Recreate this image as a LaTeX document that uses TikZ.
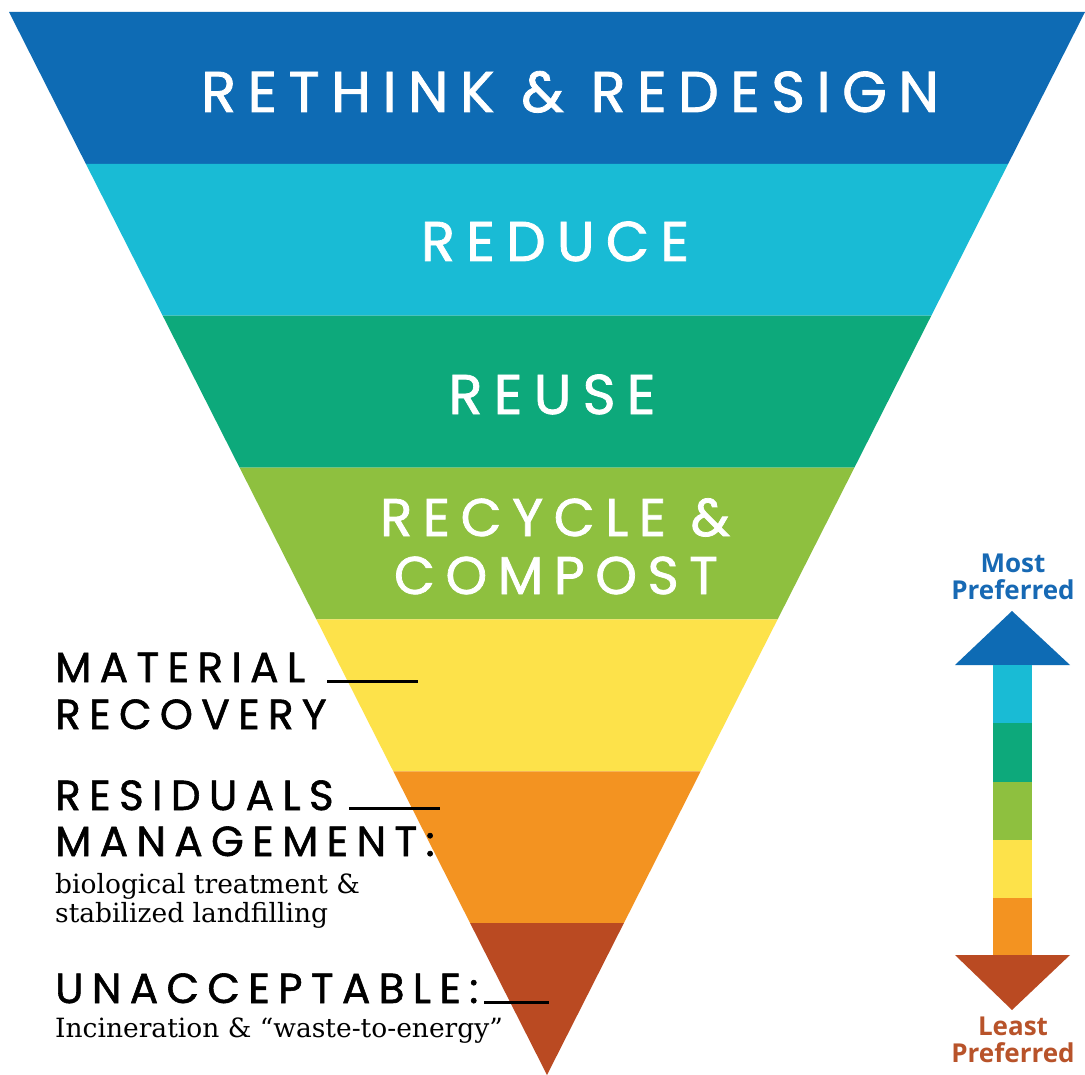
\documentclass[tikz,border=0pt]{standalone}
\usepackage{fontspec}
\setmainfont{Poppins}
\newfontfamily\geo[LetterSpace=20,FakeBold=1.4]{Poppins}
\newfontfamily\slab{DejaVu Serif}
\newfontfamily\osans{Open Sans}
\usetikzlibrary{calc}
\definecolor{cBlue}{HTML}{0E6BB4}
\definecolor{cCyan}{HTML}{19BBD5}
\definecolor{cTeal}{HTML}{0DA97B}
\definecolor{cLime}{HTML}{8EC03F}
\definecolor{cYellow}{HTML}{FDE24A}
\definecolor{cOrange}{HTML}{F39321}
\definecolor{cRust}{HTML}{BA4A22}
\definecolor{cMost}{HTML}{1769B4}
\definecolor{cLeast}{HTML}{B8532A}
\tikzset{
  bandtext/.style={text=white,font=\geo\fontsize{56}{60}\selectfont,anchor=base,inner sep=0pt},
  bandsmall/.style={bandtext,font=\geo\fontsize{53}{57}\selectfont},
  sidelabel/.style={text=black,font=\geo\fontsize{42}{46}\selectfont,anchor=base west,inner sep=0pt},
  sidenote/.style={text=black,font=\slab\fontsize{26.5}{29}\selectfont,anchor=base west,inner sep=0pt},
  leader/.style={draw=black,line width=3pt},
  preftext/.style={font=\osans\bfseries\fontsize{26}{27}\selectfont,anchor=base,inner sep=0pt},
}
\begin{document}
\begin{tikzpicture}[x=1pt,y=-1pt]
\useasboundingbox (0,0) rectangle (1085,1075);
\fill[white] (0,0) rectangle (1085,1075);
\coordinate (TL) at (9,12);
\coordinate (TR) at (1085,12);
\coordinate (AP) at (547,1075);
\foreach \k/\c in {0/cBlue,1/cCyan,2/cTeal,3/cLime,4/cYellow,5/cOrange}{
  \pgfmathsetmacro{\a}{\k/7}
  \pgfmathsetmacro{\b}{(\k+1)/7}
  \fill[\c] ($(TL)!\a!(AP)$) -- ($(TR)!\a!(AP)$) -- ($(TR)!\b!(AP)$) -- ($(TL)!\b!(AP)$) -- cycle;
}
\fill[cRust] ($(TL)!6/7!(AP)$) -- ($(TR)!6/7!(AP)$) -- (AP) -- cycle;

% band texts
\node[bandtext,font=\geo\fontsize{57.5}{60}\selectfont] (t1) at (570,112) {RETHINK \& REDESIGN};
\node[bandtext] (t2) at (555,261) {REDUCE};
\node[bandtext] (t3) at (552,414) {REUSE};
\node[bandsmall] (t4) at (555,536) {RECYCLE \&};
\node[bandsmall] (t5) at (556,594) {COMPOST};

% side labels
\node[sidelabel] (mat) at (55,682) {MATERIAL};
\node[sidelabel] (rec) at (55,729) {RECOVERY};
\coordinate (matA) at (327,681);
\coordinate (matB) at (418,681);
\draw[leader] (matA) -- (matB);

\node[sidelabel] (res) at (55,810) {RESIDUALS};
\node[sidelabel] (man) at (55,856) {MANAGEMENT:};
\coordinate (resA) at (349,808);
\coordinate (resB) at (440,808);
\draw[leader] (resA) -- (resB);
\node[sidenote] (bio) at (55,893) {biological treatment \&};
\node[sidenote] (sta) at (55,922) {stabilized landfilling};

\node[sidelabel] (una) at (55,1003) {UNACCEPTABLE:};
\coordinate (unaA) at (484,1002);
\coordinate (unaB) at (549,1002);
\draw[leader] (unaA) -- (unaB);
\node[sidenote] (inc) at (55,1037) {Incineration \& “waste-to-energy”};

% preference arrow
\fill[cBlue] (955,665) -- (1012,611) -- (1070,665) -- cycle;
\fill[cCyan] (993,665) rectangle (1032,723);
\fill[cTeal] (993,723) rectangle (1032,782);
\fill[cLime] (993,782) rectangle (1032,840);
\fill[cYellow] (993,840) rectangle (1032,898);
\fill[cOrange] (993,898) rectangle (1032,956);
\fill[cRust] (955,955) -- (1070,955) -- (1012,1010) -- cycle;

\node[preftext,text=cMost] (most1) at (1013,572) {Most};
\node[preftext,text=cMost] (most2) at (1013,599) {Preferred};
\node[preftext,text=cLeast] (least1) at (1013,1035) {Least};
\node[preftext,text=cLeast] (least2) at (1013,1062) {Preferred};
\end{tikzpicture}
\end{document}
